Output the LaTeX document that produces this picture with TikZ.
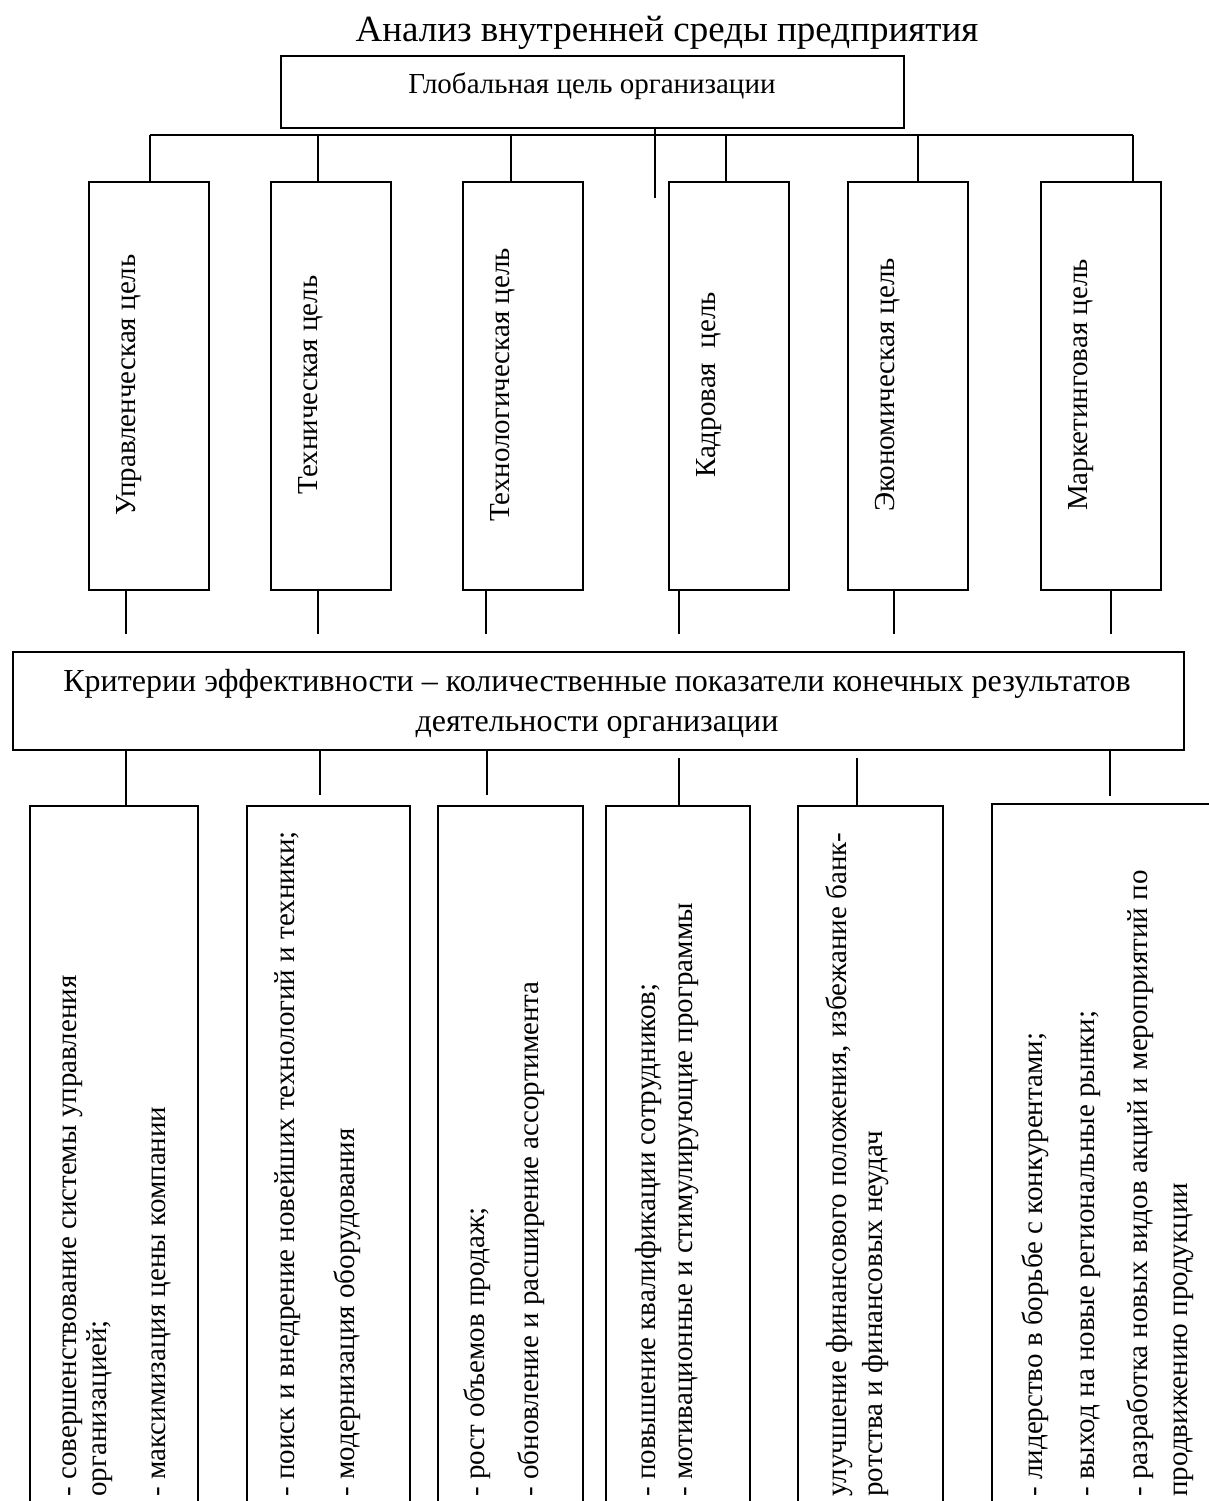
\documentclass[tikz,border=0pt]{standalone}
\usepackage{fontspec}
\setmainfont{Liberation Serif}
\begin{document}
\begin{tikzpicture}[x=0.5pt,y=-0.5pt,
  box/.style={draw, line width=1pt, inner sep=0pt, anchor=north west},
  conn/.style={line width=0.75pt},
  txt/.style={font=\fontsize{14.5pt}{17pt}\selectfont, inner sep=0pt},
  vtxt/.style={txt, rotate=90, anchor=base west},
  gtxt/.style={txt, rotate=90, anchor=base}]
\useasboundingbox (0,0) rectangle (1209,1501);
\clip (0,0) rectangle (1209,1501);
% title
\node[font=\fontsize{18.5pt}{22pt}\selectfont, inner sep=0pt, anchor=base] (title) at (667,41) {Анализ внутренней среды предприятия};
% top box
\node[box, minimum width=311.5pt, minimum height=36pt] (top) at (280,55) {};
\node[txt, anchor=base] (toptxt) at (592,93) {Глобальная цель организации};
% goal boxes
\node[box, minimum width=60pt, minimum height=204pt] (g1) at (88,181) {};
\node[box, minimum width=60pt, minimum height=204pt] (g2) at (270,181) {};
\node[box, minimum width=60pt, minimum height=204pt] (g3) at (462,181) {};
\node[box, minimum width=60pt, minimum height=204pt] (g4) at (668,181) {};
\node[box, minimum width=60pt, minimum height=204pt] (g5) at (847,181) {};
\node[box, minimum width=60pt, minimum height=204pt] (g6) at (1040,181) {};
\node[gtxt] (gt1) at (135,385) {Управленческая цель};
\node[gtxt] (gt2) at (317,385) {Техническая цель};
\node[gtxt] (gt3) at (509,385) {Технологическая цель};
\node[gtxt] (gt4) at (715,385) {Кадровая\ \ цель};
\node[gtxt] (gt5) at (894,385) {Экономическая цель};
\node[gtxt] (gt6) at (1087,385) {Маркетинговая цель};
% bus
\coordinate (d1) at (150,135);
\coordinate (d2) at (318,135);
\coordinate (d3) at (511,135);
\coordinate (d4) at (726,135);
\coordinate (d5) at (918,135);
\coordinate (d6) at (1133,135);
\coordinate (c0) at (655,198);
\draw[conn] (d1) -- (d6);
\draw[conn] (c0 |- top.south) -- (c0);
\draw[conn] (d1) -- (d1 |- g1.north);
\draw[conn] (d2) -- (d2 |- g2.north);
\draw[conn] (d3) -- (d3 |- g3.north);
\draw[conn] (d4) -- (d4 |- g4.north);
\draw[conn] (d5) -- (d5 |- g5.north);
\draw[conn] (d6) -- (d6 |- g6.north);
% middle box
\node[box, minimum width=585.5pt, minimum height=49pt] (mid) at (12,651) {};
\node[font=\fontsize{16pt}{19pt}\selectfont, inner sep=0pt, anchor=base] (midtxt1) at (597,691) {Критерии эффективности – количественные показатели конечных результатов};
\node[font=\fontsize{16pt}{19pt}\selectfont, inner sep=0pt, anchor=base] (midtxt2) at (597,731) {деятельности организации};
\coordinate (e1) at (126,634);
\coordinate (e2) at (318,634);
\coordinate (e3) at (486,634);
\coordinate (e4) at (679,634);
\coordinate (e5) at (894,634);
\coordinate (e6) at (1111,634);
\draw[conn] (e1 |- g1.south) -- (e1);
\draw[conn] (e2 |- g2.south) -- (e2);
\draw[conn] (e3 |- g3.south) -- (e3);
\draw[conn] (e4 |- g4.south) -- (e4);
\draw[conn] (e5 |- g5.south) -- (e5);
\draw[conn] (e6 |- g6.south) -- (e6);
% bottom boxes
\node[box, minimum width=84pt, minimum height=370pt] (b1) at (29,805) {};
\node[box, minimum width=81.5pt, minimum height=370pt] (b2) at (246,805) {};
\node[box, minimum width=72.5pt, minimum height=370pt] (b3) at (437,805) {};
\node[box, minimum width=72pt, minimum height=370pt] (b4) at (605,805) {};
\node[box, minimum width=72.5pt, minimum height=370pt] (b5) at (797,805) {};
\node[box, minimum width=130pt, minimum height=370pt] (b6) at (991,803) {};
\coordinate (f1) at (126,805);
\coordinate (f2) at (320,795);
\coordinate (f3) at (487,795);
\coordinate (f4) at (679,758);
\coordinate (f5) at (857,758);
\coordinate (f6) at (1110,796);
\draw[conn] (f1 |- mid.south) -- (f1 |- b1.north);
\draw[conn] (f2 |- mid.south) -- (f2);
\draw[conn] (f3 |- mid.south) -- (f3);
\draw[conn] (f4) -- (f4 |- b4.north);
\draw[conn] (f5) -- (f5 |- b5.north);
\draw[conn] (f6 |- mid.south) -- (f6);
% bottom texts
\node[vtxt] (l11) at (76,1497) {- совершенствование системы управления};
\node[vtxt] (l12) at (106,1497) {организацией;};
\node[vtxt] (l13) at (165,1497) {- максимизация цены компании};
\node[vtxt] (l21) at (294,1497) {- поиск и внедрение новейших технологий и техники;};
\node[vtxt] (l22) at (354,1497) {- модернизация оборудования};
\node[vtxt] (l31) at (484,1497) {- рост объемов продаж;};
\node[vtxt] (l32) at (538,1497) {- обновление и расширение ассортимента};
\node[vtxt] (l41) at (655,1497) {- повышение квалификации сотрудников;};
\node[vtxt] (l42) at (692,1497) {- мотивационные и стимулирующие программы};
\node[vtxt] (l51) at (846,1497) {улучшение финансового положения, избежание банк-};
\node[vtxt] (l52) at (882,1497) {ротства и финансовых неудач};
\node[vtxt] (l61) at (1042,1497) {- лидерство в борьбе с конкурентами;};
\node[vtxt] (l62) at (1094,1497) {- выход на новые региональные рынки;};
\node[vtxt] (l63) at (1147,1497) {- разработка новых видов акций и мероприятий по};
\node[vtxt] (l64) at (1187,1497) {продвижению продукции};
\end{tikzpicture}
\end{document}
